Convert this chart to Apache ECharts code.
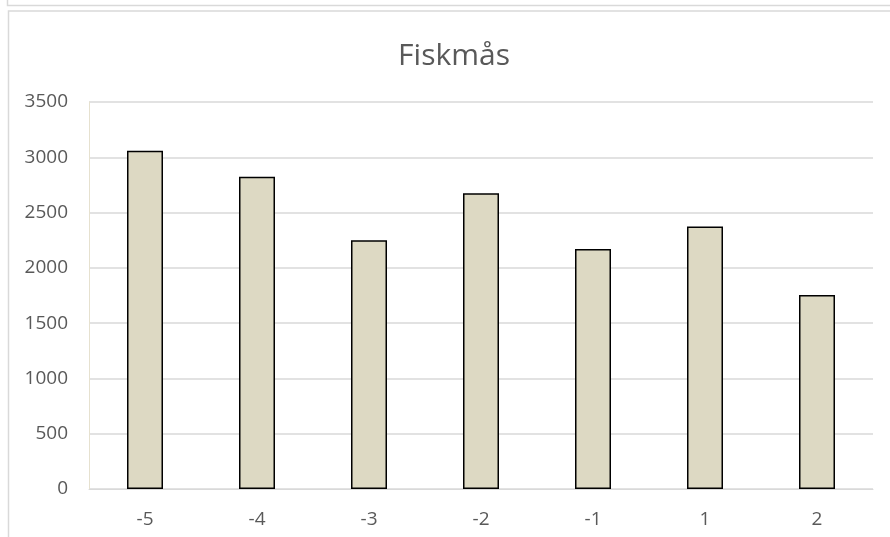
<!DOCTYPE html>
<html>
<head>
<meta charset="utf-8">
<script src="https://cdn.jsdelivr.net/npm/echarts@6/dist/echarts.min.js"></script>
<style>
  html, body { margin: 0; padding: 0; background: #ffffff; }
  #chart { width: 890px; height: 537px; }
</style>
</head>
<body>
<div id="chart"></div>
<script>
// Years relative to the reference year, and counted gulls
const categories = ['-5', '-4', '-3', '-2', '-1', '1', '2'];
const counts = [3060, 2825, 2250, 2675, 2170, 2375, 1755];
const yTicks = { min: 0, max: 3500, interval: 500 };

const textColor = '#595959';
const fontFamily = '"Open Sans", "Noto Sans", sans-serif';

const chart = echarts.init(document.getElementById('chart'));
chart.setOption({
  backgroundColor: '#ffffff',
  animation: false,
  title: {
    text: 'Fiskmås',
    left: 449,
    textAlign: 'center',
    top: 36,
    textStyle: { color: textColor, fontFamily: fontFamily, fontSize: 30, fontWeight: 'normal' }
  },
  graphic: [
    { type: 'rect', silent: true, shape: { x: 7.5, y: -600, width: 1000, height: 605.5 },
      style: { fill: 'none', stroke: '#d9d9d9', lineWidth: 1.5 } },
    { type: 'rect', silent: true, shape: { x: 8.5, y: 11, width: 1000, height: 1000 },
      style: { fill: 'none', stroke: '#d9d9d9', lineWidth: 1.5 } }
  ],
  grid: { left: 89, right: 17, top: 102, bottom: 48 },
  xAxis: {
    type: 'category',
    data: categories,
    axisLine: { lineStyle: { color: '#d9d9d9', width: 1 } },
    axisTick: { show: false },
    axisLabel: { color: textColor, fontFamily: fontFamily, fontSize: 19, margin: 21 }
  },
  yAxis: {
    type: 'value',
    min: yTicks.min,
    max: yTicks.max,
    interval: yTicks.interval,
    axisLine: { show: true, lineStyle: { color: '#e6e1cf', width: 1 } },
    axisTick: { show: false },
    splitLine: { lineStyle: { color: '#d9d9d9', width: 1.5 } },
    axisLabel: {
      color: textColor, fontFamily: fontFamily, fontSize: 19, margin: 21,
      formatter: (v) => String(v)
    }
  },
  series: [{
    type: 'bar',
    data: counts,
    barWidth: 36,
    itemStyle: { color: '#ddd9c3', borderColor: '#000000', borderWidth: 1.5 }
  }]
});
</script>
</body>
</html>
